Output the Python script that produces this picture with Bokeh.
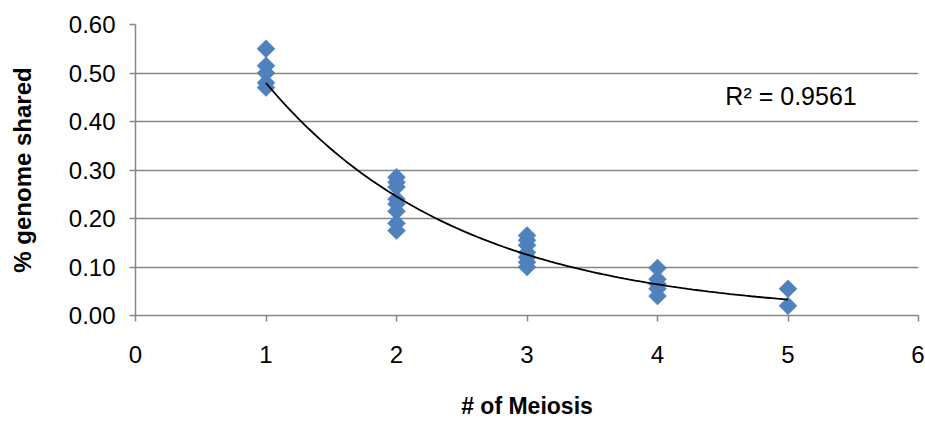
import numpy as np
from bokeh.plotting import figure
from bokeh.models import ColumnDataSource, FixedTicker, NumeralTickFormatter, Label, Range1d
from bokeh.embed import file_html
from bokeh.resources import INLINE

# ---- data ----
meiosis_1 = [0.55, 0.515, 0.50, 0.48, 0.47]
meiosis_2 = [0.285, 0.275, 0.265, 0.24, 0.23, 0.215, 0.19, 0.175]
meiosis_3 = [0.165, 0.155, 0.145, 0.13, 0.12, 0.11, 0.10]
meiosis_4 = [0.098, 0.075, 0.065, 0.055, 0.04]
meiosis_5 = [0.055, 0.02]
groups = [1, 2, 3, 4, 5]
x_ticks = [0, 1, 2, 3, 4, 5, 6]
y_ticks = [0.0, 0.1, 0.2, 0.3, 0.4, 0.5, 0.6]
r2_text = "R\u00b2 = 0.9561"
x_title = "# of Meiosis"
y_title = "% genome shared"

xs, ys = [], []
for g, vals in zip(groups, [meiosis_1, meiosis_2, meiosis_3, meiosis_4, meiosis_5]):
    xs += [g] * len(vals)
    ys += vals
xs = np.array(xs, dtype=float)
ys = np.array(ys, dtype=float)

# exponential trend line fitted to the points
b, ln_a = np.polyfit(xs, np.log(ys), 1)
tx = np.linspace(1, 5, 100)
ty = np.exp(ln_a) * np.exp(b * tx)

FONT = "Liberation Sans"
GRID = "#878787"

p = figure(width=924, height=421, output_backend="svg", toolbar_location=None,
           x_range=Range1d(0, 6), y_range=Range1d(0, 0.6),
           min_border_left=135, min_border_right=6, min_border_top=24, min_border_bottom=104)
p.outline_line_color = None
p.background_fill_color = "white"
p.border_fill_color = "white"

p.xgrid.grid_line_color = None
p.ygrid.grid_line_color = GRID
p.ygrid.grid_line_width = 1.5

for ax in (p.xaxis[0], p.yaxis[0]):
    ax.axis_line_color = GRID
    ax.axis_line_width = 1.5
    ax.major_tick_line_color = GRID
    ax.major_tick_line_width = 1.5
    ax.major_tick_out = 6
    ax.major_tick_in = 0
    ax.minor_tick_line_color = None
    ax.major_label_text_font = FONT
    ax.major_label_text_font_size = "24px"
    ax.major_label_text_color = "black"
    ax.axis_label_text_font = FONT
    ax.axis_label_text_font_style = "bold"
    ax.axis_label_text_color = "black"

p.xaxis.ticker = FixedTicker(ticks=x_ticks)
p.yaxis.ticker = FixedTicker(ticks=y_ticks)
p.yaxis.formatter = NumeralTickFormatter(format="0.00")
p.xaxis.axis_label = x_title
p.yaxis.axis_label = y_title
p.xaxis.axis_label_text_font_size = "23px"
p.yaxis.axis_label_text_font_size = "24px"
p.xaxis.major_label_standoff = 24
p.yaxis.major_label_standoff = 14
p.xaxis.axis_label_standoff = 27
p.yaxis.axis_label_standoff = 30

src = ColumnDataSource(dict(x=xs, y=ys))
p.scatter("x", "y", source=src, marker="square", angle=np.pi / 4, size=12.7,
          fill_color="#4F81BD", line_color="#4F81BD", line_width=0.5)

p.line(tx, ty, line_color="black", line_width=1.8)

p.add_layout(Label(x=4.52, y=0.452, text=r2_text, text_font=FONT, text_font_size="25px",
                   text_baseline="middle", text_color="black"))

open("out.html", "w").write(file_html(p, INLINE))
